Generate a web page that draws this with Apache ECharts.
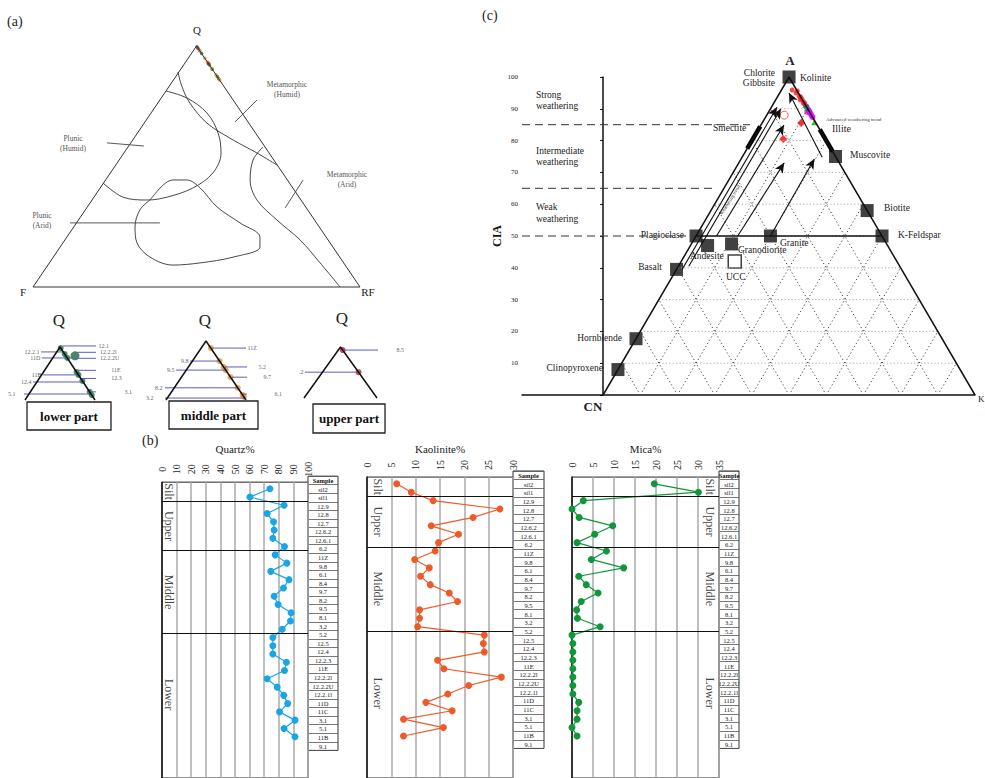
<!DOCTYPE html>
<html>
<head>
<meta charset="utf-8">
<script src="https://cdn.jsdelivr.net/npm/echarts@6/dist/echarts.min.js"></script>
<style>
html,body{margin:0;padding:0;background:#fff;}
#main{width:985px;height:778px;}
</style>
</head>
<body>
<div id="main"></div>
<script>
// ---- strip logs (b) ----
var samples = ['sil2','sil1','12.9','12.8','12.7','12.6.2','12.6.1','6.2','11Z','9.8','6.1','8.4','9.7','8.2','9.5','8.1','3.2','5.2',
  '12.5','12.4','12.2.3','11E','12.2.2l','12.2.2U','12.2.1l','11D','11C','3.1','5.1','11B','9.1'];
var quartz = [73.9,60.2,83.6,72,76.4,76.8,75.9,83.9,77.5,85.5,74.5,87,83.2,76.8,79.5,88.4,88,82.3,
  75.9,75.9,75.9,85.2,83.9,72,78.9,83.4,86.1,80.5,91.1,83.6,91.1];
var kaolinite = [6.1,9.1,13.6,27.3,21.8,13.2,18.8,14.7,14,9.8,12.8,11,13,16.9,18.6,10.8,10.8,10.4,
  24.1,23.9,24.1,14.5,15.8,27.6,20.9,16.6,12.1,17.5,7.5,15.7,7.5];
var mica = [19.6,30.1,2.7,0,1.7,9.7,5.4,1.2,8.2,4.6,12.3,1.6,3.4,6.2,2.2,1.1,1.3,6.7,
  0,0.2,0.2,0.2,0.2,0.2,0.2,0.2,1.6,1.2,1.2,0,1.2];
var zoneNames = ['Silt','Upper','Middle','Lower'];
var zoneEnds = [2, 8, 18, 31];

// ---- Q-F-RF (a): Q% of samples lying on the Q-RF side ----
var qLower = [99.7,98.0,96.9,92.9,92.1,90.4,87.3,86.4];
var qMiddle = [98.2,94.9,93.4,92.6,90.8,88.1,86.3,85.8];
var qUpper = [99.1,92.6];
var lowerOff = [[71.4,97.5]];

// field boundaries, x: F(0) -> RF(100), y: Q%
var fieldCurves = [
  [[44.3,89.2],[45.6,83.0],[48.0,76.3],[53.2,68.0],[61.2,61.0],[68.5,55.6],[74.6,50.6]],
  [[40.7,81.3],[47.1,78.4],[53.2,72.2],[56.6,63.9],[57.5,55.6],[55.0,47.3],[48.9,41.1],[41.0,37.3],[34.9,36.1],[27.5,37.3],[21.4,43.2]],
  [[35.8,36.1],[39.8,42.3],[42.8,44.4],[47.1,44.4],[51.1,41.1],[56.3,33.2],[63.3,26.6],[69.4,20.7],[69.4,16.6],[61.2,12.4],
   [51.1,10.0],[42.8,9.1],[35.8,12.4],[31.8,18.3],[31.2,24.9],[32.7,32.0],[35.8,36.1]],
  [[70.3,58.1],[67.3,52.7],[66.4,44.4],[68.5,36.1],[74.6,27.8],[81.7,19.5],[87.8,10.0],[93.9,0]]
];
var fieldTicks = [
  [[61.8,68.5],[68.5,77.6]], [[22.6,59.8],[33.9,58.5]], [[77.1,32.8],[82.6,44.4]], [[11.3,26.6],[38.8,26.6]]
];

// leader lines of the zoomed triangles: [label, Q%, x1, x2, side]
var leadLower = [['12.1',100.3,54,103,'r'],['12.2.1',98.6,22.9,52.9,'l'],['12.2.2l',98.5,71,105,'r'],['12.2.2U',96.8,71,105,'r'],
  ['11D',96.9,24,69,'l'],['11E',93.4,75.7,121,'r'],['11B',92.1,25.7,78.6,'l'],['12.3',91.1,78.6,121,'r'],
  ['12.4',90.1,11.4,81.4,'l'],['3.1',87.3,92.9,140,'r'],['5.1',86.7,-11.4,91.4,'l']];
var leadMiddle = [['11Z',98.2,57.5,100,'r'],['9.8',94.9,30,66.3,'l'],['5.2',93.4,73.8,113.8,'r'],['9.5',92.6,12.5,76.3,'l'],
  ['9.7',90.8,82.5,120,'r'],['8.2',88.1,-2.5,90,'l'],['6.1',86.5,96.3,133.8,'r'],['3.2',85.5,-13.8,98.8,'l']];
var leadUpper = [['8.5',99.1,54.8,124.7,'r'],['.2',92.6,1.4,74,'l']];

// ---- A-CN-K (c): [CIA, K%] ----
var mineralPts = [[100,0],[75,25],[58,42],[50,50],[50,0],[39.5,0],[17.7,0],[8,0],[47,4.6],[47.5,10.8],[50,20]];
var uccPt = [[42,14.4]];
var cRed = [[95.9,2.9],[95,4.4],[94,5.7],[93,7.0],[92.1,7.9],[92.8,6.6],[93.7,6.3],[91.5,8.5],[95.6,4.4]];
var cMagenta = [[91.8,8.1],[89.6,10.4],[87.4,12.6],[88.4,11.6],[87.7,12.3],[89,10.4]];
var cGreen = [[91.2,8.8],[85.8,13.9],[90.3,9.7]];
var cBlue = [[90.6,9.4],[89,11],[89.6,10.4]];
var cHollow = [[88,4.7]];
var cDiamond = [[85.5,10.5],[80.5,8.2]];
var trendArrows = [[39.5,1.5,90.5,1.5],[40.5,2.8,90,2.8],[50,5.5,84.9,6.2],[50,11.2,73,12.2],[50,20,74.2,19.7],[74.8,21.5,95,2.5]];
var thickBars = [[77.5,0,84.5,0],[83.5,16.5,76.5,23.5]];
var ciaBands = [85, 65, 50];

var SERIF = '"Liberation Serif", "DejaVu Serif", serif';
var chart = echarts.init(document.getElementById('main'), null, {renderer: 'svg'});

var grids = [], xAxes = [], yAxes = [], series = [], graphics = [];

function addGrid(g, xa, ya) {
  var i = grids.length;
  grids.push(g);
  xa.gridIndex = i; ya.gridIndex = i;
  xAxes.push(xa); yAxes.push(ya);
  return i;
}
function hidden(min, max) { return {type: 'value', min: min, max: max, show: false}; }
function seg(gi, pts, style, extra) {
  var s = {type: 'line', xAxisIndex: gi, yAxisIndex: gi, data: pts, symbol: 'none', silent: true, clip: false, lineStyle: style};
  for (var k in (extra || {})) s[k] = extra[k];
  series.push(s);
  return s;
}
function dots(gi, pts, size, item, symbol) {
  series.push({type: 'scatter', xAxisIndex: gi, yAxisIndex: gi, data: pts, symbol: symbol || 'circle',
    symbolSize: size, itemStyle: item, silent: true, clip: false});
}
function txt(x, y, s, size, opt) {
  opt = opt || {};
  graphics.push({type: 'text', x: x, y: y, rotation: opt.rot || 0, silent: true,
    style: {text: s, fontSize: size, fontFamily: SERIF, fontWeight: opt.bold ? 'bold' : 'normal',
      fill: opt.color || '#222', align: opt.align || 'left', verticalAlign: 'middle'}});
}

// ===== (a) Q-F-RF =====
var gA = addGrid({left: 33, top: 46, width: 327, height: 241}, hidden(0, 100), hidden(0, 100));
seg(gA, [[0,0],[100,0],[50,100],[0,0]], {color: '#333', width: 1});
fieldCurves.forEach(function (c) { seg(gA, c, {color: '#333', width: 0.9}, {smooth: 0.35}); });
fieldTicks.forEach(function (t) { seg(gA, t, {color: '#444', width: 0.9}); });
function onEdge(q) { return [100 - q / 2, q]; }
dots(gA, qLower.map(onEdge), 3.5, {color: '#1f6b3a'});
dots(gA, qMiddle.map(onEdge), 3.5, {color: '#e8962c'});
dots(gA, qUpper.map(onEdge), 3.5, {color: '#b01e36'});

txt(7, 21, '(a)', 14);
txt(197, 30, 'Q', 11, {align: 'center'});
txt(23, 292, 'F', 11, {align: 'center'});
txt(368, 292, 'RF', 11, {align: 'center'});
txt(287, 84, 'Metamorphic', 7.5, {align: 'center', color: '#555'});
txt(287, 94, '(Humid)', 7.5, {align: 'center', color: '#555'});
txt(73, 138, 'Plunic', 7.5, {align: 'center', color: '#555'});
txt(73, 148, '(Humid)', 7.5, {align: 'center', color: '#555'});
txt(347, 174, 'Metamorphic', 7.5, {align: 'center', color: '#555'});
txt(347, 184, '(Arid)', 7.5, {align: 'center', color: '#555'});
txt(42, 215, 'Plunic', 7.5, {align: 'center', color: '#555'});
txt(42, 225, '(Arid)', 7.5, {align: 'center', color: '#555'});

// zoomed triangles near Q
function smallTri(box, qs, color, leads, partName, qPos, boxRect) {
  var gi = addGrid(box, hidden(0, 100), hidden(85, 100));
  leads.forEach(function (l) {
    seg(gi, [[l[2], l[1]], [l[3], l[1]]], {color: '#5c5cc0', width: 1});
  });
  seg(gi, [[0,85],[50,100],[100,85]], {color: '#111', width: 1.5});
  dots(gi, qs.map(function (q) { return [50 + 50 * (100 - q) / 15, q]; }), 6, {color: color});
  series.push({type: 'scatter', xAxisIndex: gi, yAxisIndex: gi, symbolSize: 1, silent: true, clip: false,
    itemStyle: {color: 'rgba(0,0,0,0)'},
    data: leads.map(function (l) {
      return {name: l[0], value: [l[4] === 'l' ? l[2] : l[3], l[1]],
        label: {position: l[4] === 'l' ? 'left' : 'right', distance: 1}};
    }),
    label: {show: true, formatter: '{b}', fontSize: 6, fontFamily: SERIF, color: '#333'}});
  txt(qPos[0], qPos[1], 'Q', 17, {align: 'center'});
  graphics.push({type: 'rect', silent: true, shape: {x: boxRect[0], y: boxRect[1], width: boxRect[2], height: boxRect[3]},
    style: {fill: '#fff', stroke: '#222', lineWidth: 1.3}});
  txt(boxRect[0] + boxRect[2] / 2, boxRect[1] + boxRect[3] / 2, partName, 13, {align: 'center', bold: true, color: '#111'});
  return gi;
}
var gL = smallTri({left: 25, top: 347, width: 70, height: 53}, qLower, '#1f6b3a', leadLower, 'lower part', [59, 320], [27, 402, 84, 28]);
dots(gL, lowerOff, 9, {color: '#1f6b3a'});
smallTri({left: 166, top: 341, width: 80, height: 59}, qMiddle, '#e8962c', leadMiddle, 'middle part', [205, 320], [169, 401, 89, 28]);
smallTri({left: 304, top: 347, width: 73, height: 51}, qUpper, '#b01e36', leadUpper, 'upper part', [342, 318], [313, 404, 72, 29]);

// ===== (c) A-CN-K =====
function tern(cia, k) { return [k + cia / 2, cia]; }
var gC = addGrid({left: 522, top: 77, width: 453, height: 318},
  {type: 'value', min: -21.8, max: 100, axisLine: {show: true, lineStyle: {color: '#111', width: 1.5}},
    axisTick: {show: false}, axisLabel: {show: false}, splitLine: {show: false}},
  {type: 'value', min: 0, max: 100, interval: 10,
    axisLine: {show: true, lineStyle: {color: '#111', width: 1.5}},
    axisTick: {show: true, length: 3, lineStyle: {color: '#111'}},
    axisLabel: {fontSize: 7, fontFamily: SERIF, color: '#222', margin: 4,
      formatter: function (v) { return v === 0 ? '' : v; }},
    splitLine: {show: false},
    name: 'CIA', nameLocation: 'middle', nameGap: 19,
    nameTextStyle: {fontSize: 12, fontFamily: SERIF, fontWeight: 'bold', color: '#111'}});

for (var v = 10; v < 100; v += 10) {
  seg(gC, [tern(v, 0), tern(v, 100 - v)], {color: '#aaa', width: 1, type: [1.2, 2.2]});
  seg(gC, [tern(0, v), tern(100 - v, v)], {color: '#444', width: 1, type: [1.2, 2.5]});
  seg(gC, [tern(0, 100 - v), tern(100 - v, 0)], {color: '#444', width: 1, type: [1.2, 2.5]});
}
var bandEnds = [39.5, 30.6, 25];
ciaBands.forEach(function (c, i) {
  seg(gC, [[-21.8, c], [bandEnds[i], c]], {color: '#333', width: 1, type: [8, 5]});
});
seg(gC, [tern(50, 0), tern(50, 50)], {color: '#111', width: 1.5});
thickBars.forEach(function (b) { seg(gC, [tern(b[0], b[1]), tern(b[2], b[3])], {color: '#000', width: 4.5}); });
var outline = seg(gC, [tern(0, 0), tern(100, 0), tern(0, 100)], {color: '#111', width: 1.5});
outline.markLine = {silent: true, symbol: ['none', 'arrow'], symbolSize: [7, 10], label: {show: false},
  lineStyle: {color: '#111', width: 1.1, type: 'solid'},
  data: trendArrows.map(function (a) { return [{coord: tern(a[0], a[1])}, {coord: tern(a[2], a[3])}]; })};

function tp(list) { return list.map(function (p) { return tern(p[0], p[1]); }); }
dots(gC, tp(mineralPts), 13, {color: '#111'}, 'rect');
dots(gC, tp(uccPt), 13, {color: '#fff', borderColor: '#111', borderWidth: 1.5}, 'rect');
dots(gC, tp(cHollow), 8, {color: 'rgba(0,0,0,0)', borderColor: '#ff3030', borderWidth: 1});
dots(gC, tp(cDiamond), 8, {color: '#ff0000'}, 'diamond');
dots(gC, tp(cBlue), 6, {color: '#1a1aff'});
dots(gC, tp(cMagenta), 6, {color: '#ff00ff'});
dots(gC, tp(cGreen), 6, {color: '#00b000'}, 'triangle');
dots(gC, tp(cRed), 5, {color: '#ff1a1a'});

txt(482, 15, '(c)', 14);
txt(790, 60, 'A', 13, {align: 'center', bold: true});
txt(593, 406, 'CN', 13, {align: 'center', bold: true});
txt(978, 399, 'K', 9);
[['Strong', 95], ['weathering', 106], ['Intermediate', 151], ['weathering', 162], ['Weak', 207], ['weathering', 219]]
  .forEach(function (t) { txt(536, t[1], t[0], 9.5); });
txt(775, 73, 'Chlorite', 9.5, {align: 'right'});
txt(775, 83, 'Gibbsite', 9.5, {align: 'right'});
txt(800, 78, 'Kolinite', 9.5);
txt(713, 128, 'Smectite', 9.5);
txt(832, 128, 'Illite', 10);
txt(826, 119, 'Advanced weathering trend', 5, {color: '#333'});
txt(850, 155, 'Muscovite', 9.5);
txt(884, 208, 'Biotite', 9.5);
txt(898, 235, 'K-Feldspar', 9.5);
txt(684, 235, 'Plagioclase', 9.5, {align: 'right'});
txt(780, 243, 'Granite', 9.5);
txt(738, 250, 'Granodiorite', 9.5);
txt(690, 256, 'Andesite', 9.5);
txt(726, 277, 'UCC', 9.5);
txt(662, 267, 'Basalt', 9.5, {align: 'right'});
txt(622, 338, 'Hornblende', 9.5, {align: 'right'});
txt(603, 368, 'Clinopyroxene', 9.5, {align: 'right'});
txt(730, 200, 'Weathering trend', 5, {align: 'center', rot: 1.02, color: '#333'});

// ===== (b) strip logs =====
txt(142, 440, '(b)', 14);
function strip(o) {
  var top = o.r1 - 0.8 * o.sp, rows = 36;
  var gi = addGrid({left: o.left, top: top, width: o.width, height: (rows - 0.2) * o.sp,
      show: true, borderColor: '#222', borderWidth: 1},
    {type: 'value', position: 'top', min: 0, max: o.max, interval: o.step,
      axisLine: {show: false}, axisTick: {show: false},
      splitLine: {show: true, lineStyle: {color: '#aaa', width: 1.5}},
      axisLabel: {rotate: -90, align: 'center', verticalAlign: 'middle', margin: o.margin,
        fontSize: 10, fontFamily: SERIF, color: '#222'},
      name: o.name, nameLocation: 'middle', nameGap: o.nameGap,
      nameTextStyle: {fontSize: 11, fontFamily: SERIF, color: '#222'}},
    {type: 'value', inverse: true, min: 0.2, max: rows,
      axisLine: {show: true, lineStyle: {color: '#111', width: 1.5}},
      axisTick: {show: false}, axisLabel: {show: false}, splitLine: {show: false}});
  series.push({type: 'line', xAxisIndex: gi, yAxisIndex: gi, silent: true,
    data: o.vals.map(function (v, i) { return [v, i + 1]; }),
    symbol: 'circle', symbolSize: 7, itemStyle: {color: o.color},
    lineStyle: {color: o.color, width: 1.2},
    markLine: {silent: true, symbol: 'none', label: {show: false},
      lineStyle: {color: '#111', width: 1.2, type: 'solid'},
      data: zoneEnds.slice(0, 3).map(function (e) { return {yAxis: e + 0.5}; })}});
  var bounds = [0.2].concat(zoneEnds.slice(0, 3).map(function (e) { return e + 0.5; }), [33.3]);
  series.push({type: 'scatter', xAxisIndex: gi, yAxisIndex: gi, symbolSize: 1, silent: true,
    itemStyle: {color: 'rgba(0,0,0,0)'},
    data: zoneNames.map(function (n, i) { return {name: n, value: [o.zoneX, (bounds[i] + bounds[i + 1]) / 2]}; }),
    label: {show: true, formatter: '{b}', position: 'inside', rotate: -90,
      fontSize: 12, fontFamily: SERIF, color: '#111'}});
  // sample table
  var tw = o.tableW;
  addGrid({left: o.left + o.width, top: o.r1 - 1.5 * o.sp, width: tw, height: (samples.length + 1) * o.sp,
      show: true, borderColor: '#333', borderWidth: 1},
    {type: 'value', min: 0, max: 1, show: false},
    {type: 'category', inverse: true, data: ['Sample'].concat(samples),
      axisLine: {show: false}, axisTick: {show: false},
      splitLine: {show: true, lineStyle: {color: '#555', width: 0.8}},
      axisLabel: {interval: 0, align: 'center', margin: -tw / 2, fontSize: 6.5, fontFamily: SERIF, color: '#222',
        formatter: function (v, i) { return i === 0 ? '{h|Sample}' : v; },
        rich: {h: {fontSize: 6.5, fontFamily: SERIF, fontWeight: 'bold', color: '#111'}}}});
}
strip({left: 162, width: 146, r1: 489, sp: 8.57, max: 100, step: 10, margin: 13, name: 'Quartz%', nameGap: 28,
  vals: quartz, color: '#1aa6e6', zoneX: 5, tableW: 30});
strip({left: 367, width: 146, r1: 484, sp: 8.67, max: 30, step: 5, margin: 12, name: 'Kaolinite%', nameGap: 23,
  vals: kaolinite, color: '#f05a28', zoneX: 2.3, tableW: 31});
strip({left: 572, width: 147, r1: 484, sp: 8.67, max: 35, step: 5, margin: 12, name: 'Mica%', nameGap: 23,
  vals: mica, color: '#11963a', zoneX: 32.9, tableW: 20});

chart.setOption({
  animation: false,
  backgroundColor: '#fff',
  grid: grids,
  xAxis: xAxes,
  yAxis: yAxes,
  series: series,
  graphic: graphics
});
</script>
</body>
</html>
